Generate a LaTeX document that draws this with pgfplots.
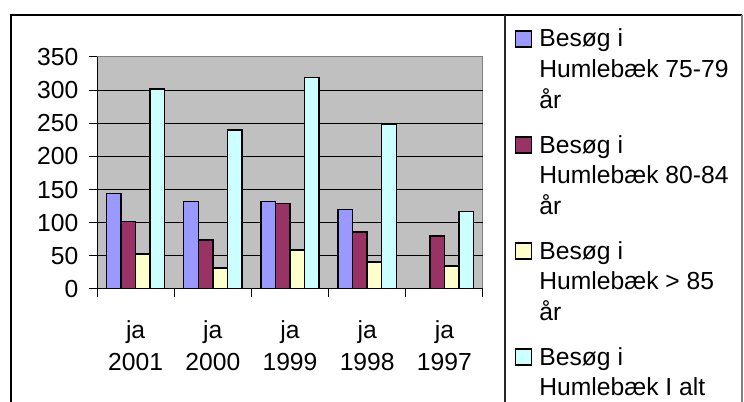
\documentclass[border=0pt]{standalone}
\usepackage{fontspec}
\setmainfont{Liberation Sans}
\usepackage{pgfplots}
\pgfplotsset{compat=1.18}
\definecolor{sA}{HTML}{9999FF}
\definecolor{sB}{HTML}{993366}
\definecolor{sC}{HTML}{FFFFCC}
\definecolor{sD}{HTML}{CCFFFF}
\definecolor{plotbg}{HTML}{C0C0C0}
\definecolor{framegray}{HTML}{808080}
\begin{document}
\begin{tikzpicture}[x=0.75pt,y=0.75pt]
\useasboundingbox (0,0) rectangle (744,402);
\begin{axis}[
  at={(72.75pt,84.75pt)}, anchor=south west,
  scale only axis, width=289.5pt, height=174pt,
  ybar=0pt, bar width=10.9pt,
  xmin=-0.5, xmax=4.5, ymin=0, ymax=350,
  ytick={0,50,...,300},
  extra y ticks={350},
  extra y tick style={grid=none},
  ymajorgrids, major grid style={black, line width=0.75pt},
  xtick={-0.5,0.5,...,4.5}, xticklabels={},
  extra x ticks={0,1,2,3,4},
  extra x tick labels={{ja\\2001},{ja\\2000},{ja\\1999},{ja\\1998},{ja\\1997}},
  extra x tick style={major tick length=0pt, grid=none},
  tick align=outside, major tick length=6pt,
  tick style={black, line width=0.75pt},
  axis x line*=bottom, axis y line*=left,
  axis line style={black, line width=0.75pt, -},
  axis background/.style={fill=plotbg, draw=framegray, line width=0.75pt},
  /pgf/number format/assume math mode=true,
  yticklabel style={font=\fontsize{18.5}{22}\selectfont, xshift=-4.5pt},
  xticklabel style={font=\fontsize{18.5}{24.5}\selectfont, align=center, yshift=-20pt},
  legend style={at={(1.0829,1.1353)}, anchor=north west, draw=none, fill=none,
    inner sep=0pt, outer sep=0pt, row sep=62pt, cells={anchor=base west},
    nodes={inner sep=0pt, font=\fontsize{18.5}{22.9}\selectfont},
    /tikz/every even column/.append style={column sep=0pt}},
  legend image code/.code={\draw[#1, line width=1pt] (0pt,0pt) rectangle (12pt,12pt); \path (17.25pt,0pt);},
  every axis plot/.append style={draw=black, line width=1.1pt},
]
\addplot[fill=sA] coordinates {(0,144) (1,132) (2,132) (3,120)};
\addlegendentry{\begin{tabular}[t]{@{}l@{}}Besøg i\\Humlebæk 75-79\\år\end{tabular}}
\addplot[fill=sB] coordinates {(0,102) (1,74) (2,129) (3,86) (4,80)};
\addlegendentry{\begin{tabular}[t]{@{}l@{}}Besøg i\\Humlebæk 80-84\\år\end{tabular}}
\addplot[fill=sC] coordinates {(0,53) (1,32) (2,59) (3,41) (4,35)};
\addlegendentry{\begin{tabular}[t]{@{}l@{}}Besøg i\\Humlebæk > 85\\år\end{tabular}}
\addplot[fill=sD] coordinates {(0,302) (1,240) (2,319) (3,249) (4,117)};
\addlegendentry{\begin{tabular}[t]{@{}l@{}}Besøg i\\Humlebæk I alt\end{tabular}}
\end{axis}
\draw[black, line width=1pt] (11,0) -- (11,387) -- (742,387);
\draw[framegray, line width=1pt] (742,387) -- (742,0);
\draw[black!85, line width=1pt] (505,387) -- (505,0);
\end{tikzpicture}
\end{document}
